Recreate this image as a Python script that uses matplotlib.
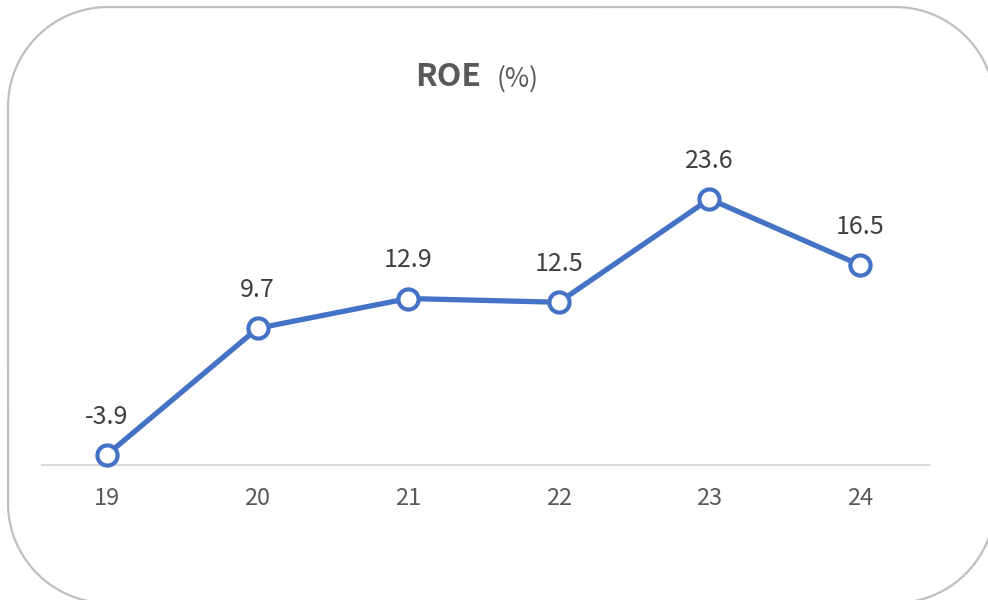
import numpy as np
import matplotlib
matplotlib.use("Agg")
import matplotlib.pyplot as plt
from matplotlib.path import Path
from matplotlib.patches import PathPatch

plt.rcParams['font.family'] = ['Noto Sans CJK SC', 'DejaVu Sans']

years = ["19", "20", "21", "22", "23", "24"]
roe = [-3.9, 9.7, 12.9, 12.5, 23.6, 16.5]
labels = ["-3.9", "9.7", "12.9", "12.5", "23.6", "16.5"]

fig = plt.figure(figsize=(9.88, 6.0), dpi=100)

# rounded border (inches)
def rounded_rect(x0, y0, x1, y1, r, n=40):
    pts = []
    corners = [((x1 - r, y1 - r), 0, 90), ((x0 + r, y1 - r), 90, 180),
               ((x0 + r, y0 + r), 180, 270), ((x1 - r, y0 + r), 270, 360)]
    for (cx, cy), a0, a1 in corners:
        t = np.radians(np.linspace(a0, a1, n))
        pts.extend(zip(cx + r * np.cos(t), cy + r * np.sin(t)))
    pts.append(pts[0])
    return Path(pts)

border = PathPatch(rounded_rect(0.08, -0.03, 9.95, 5.93, 1.0),
                   transform=fig.dpi_scale_trans, fill=False,
                   edgecolor="#BFBFBF", linewidth=1.6, clip_on=False)
fig.patches.append(border)

ax = fig.add_axes([0.0427, 0.225, 0.898, 0.465])
x = list(range(len(years)))
ax.plot(x, roe, color="#4472C4", linewidth=3.8, marker="o", markersize=14.5,
        markerfacecolor="white", markeredgecolor="#4472C4", markeredgewidth=3.0,
        solid_capstyle="round", zorder=3, clip_on=False)
for xi, v, lab in zip(x, roe, labels):
    ax.annotate(lab, (xi, v), xytext=(0, 27.5), textcoords="offset points",
                ha="center", va="center", fontsize=18, color="#404040")

ax.set_xlim(-0.43, 5.46)
ax.set_ylim(-5, 25)
ax.set_yticks([])
ax.set_xticks(x)
ax.set_xticklabels(years, fontsize=17, color="#595959")
ax.tick_params(axis="x", length=0, pad=15.5)
for s in ["top", "right", "left"]:
    ax.spines[s].set_visible(False)
ax.spines["bottom"].set_color("#D9D9D9")
ax.spines["bottom"].set_linewidth(1.5)
ax.patch.set_alpha(0)

fig.text(415 / 988, 1 - 77 / 600, "ROE", fontsize=23, fontweight="bold",
         color="#595959", ha="left", va="center")
fig.text(497 / 988, 1 - 79 / 600, "(%)", fontsize=19,
         color="#595959", ha="left", va="center")

fig.savefig("out.png", dpi=100)
